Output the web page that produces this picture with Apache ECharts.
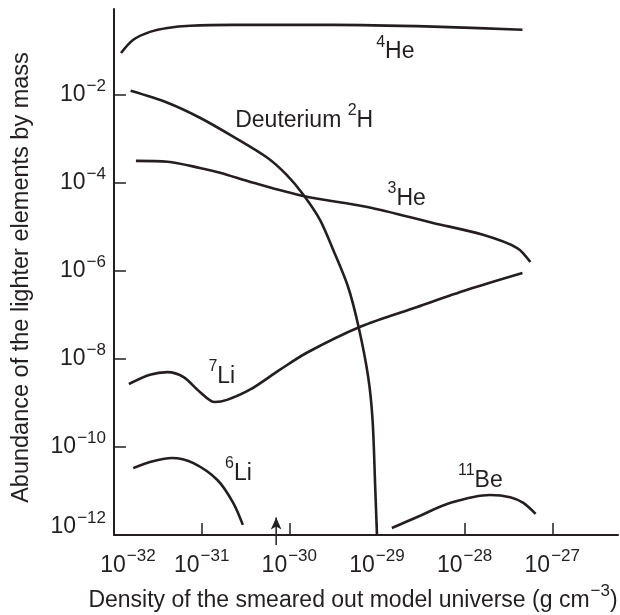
<!DOCTYPE html>
<html><head><meta charset="utf-8">
<script src="https://cdn.jsdelivr.net/npm/echarts@6/dist/echarts.min.js"></script>
<style>html,body{margin:0;padding:0;background:#fff}#c{width:620px;height:615px}</style>
</head><body><div id="c"></div><script>
// All values are log10 exponents: x = log10(density, g cm^-3), y = log10(abundance by mass)
const xTickExps = [-32, -31, -30, -29, -28, -27];
const yTickExps = [-12, -10, -8, -6, -4, -2];

const he4LogX = [-31.92, -31.78, -31.59, -31.39, -31.13, -30.64, -29.50, -28.36, -27.34];
const he4LogY = [-1.05, -0.75, -0.57, -0.48, -0.43, -0.41, -0.41, -0.45, -0.52];

const deutLogX = [-31.81, -31.39, -31.02, -30.64, -30.25, -30.03, -29.84, -29.65, -29.50, -29.33, -29.21, -29.10, -29.05, -29.02, -29.00];
const deutLogY = [-1.91, -2.18, -2.52, -2.95, -3.43, -3.82, -4.27, -4.84, -5.52, -6.36, -7.27, -8.41, -9.39, -10.91, -12.00];

const he3LogX = [-31.75, -31.39, -31.02, -30.79, -30.41, -29.84, -29.11, -28.36, -27.79, -27.40, -27.25];
const he3LogY = [-3.50, -3.52, -3.66, -3.77, -4.00, -4.30, -4.55, -4.91, -5.18, -5.48, -5.80];

const li7LogX = [-31.83, -31.59, -31.39, -31.21, -31.02, -30.85, -30.71, -30.45, -30.11, -29.80, -29.19, -28.54, -27.97, -27.34];
const li7LogY = [-8.57, -8.36, -8.30, -8.41, -8.75, -8.98, -8.93, -8.70, -8.25, -7.86, -7.27, -6.82, -6.43, -6.05];

const li6LogX = [-31.78, -31.59, -31.34, -31.10, -30.82, -30.64, -30.53];
const li6LogY = [-10.48, -10.34, -10.25, -10.36, -10.75, -11.27, -11.77];

const be11LogX = [-28.83, -28.54, -28.16, -27.71, -27.48, -27.33, -27.19];
const be11LogY = [-11.84, -11.59, -11.27, -11.09, -11.14, -11.27, -11.52];

const seriesNames = ['4He', 'Deuterium', '3He', '7Li', '6Li', '11Be'];
const labelText = ['{s|4}{b|He}', '{b|Deuterium }{s|2}{b|H}', '{s|3}{b|He}', '{s|7}{b|Li}', '{s|6}{b|Li}', '{s|11}{b|Be}'];
const labelLogX = [-28.79, -29.83, -28.66, -30.77, -30.58, -27.82];
const labelLogY = [-1.03, -2.59, -4.35, -8.41, -10.60, -10.76];

const arrowLogX = [-30.15, -30.15];
const arrowLogY = [-12.23, -11.6];

const ink = '#231f20';
const FF = '"Liberation Sans", Arial, Helvetica, sans-serif';

const rich = {
  b: { fontSize: 23, fontFamily: FF, color: ink, lineHeight: 23, verticalAlign: 'middle' },
  b0: { fontSize: 23, fontFamily: FF, color: ink, lineHeight: 23, verticalAlign: 'middle', padding: [0, 0, 0, 28] },
  s: { fontSize: 17, fontFamily: FF, color: ink, lineHeight: 17, verticalAlign: 'middle', padding: [0, 0, 18, 1] },
  gap: { fontSize: 2, lineHeight: 16 }
};
const labelRich = {
  b: { fontSize: 23, fontFamily: FF, color: ink, lineHeight: 23, verticalAlign: 'middle' },
  s: { fontSize: 16, fontFamily: FF, color: ink, lineHeight: 16, verticalAlign: 'middle', padding: [0, 0, 20, 0] }
};

function pairs(xs, ys) { return xs.map((x, i) => [x, ys[i]]); }
const curves = [
  pairs(he4LogX, he4LogY), pairs(deutLogX, deutLogY), pairs(he3LogX, he3LogY),
  pairs(li7LogX, li7LogY), pairs(li6LogX, li6LogY), pairs(be11LogX, be11LogY)
];

const series = curves.map((d, i) => ({
  name: seriesNames[i],
  type: 'line',
  data: d,
  smooth: 0.3,
  symbol: 'none',
  lineStyle: { color: ink, width: 2.6 },
  silent: true,
  markPoint: {
    symbol: 'circle', symbolSize: 0, silent: true,
    data: [{ coord: [labelLogX[i], labelLogY[i]] }],
    label: { show: true, position: 'inside', formatter: labelText[i], rich: labelRich, color: ink, textBorderWidth: 0 }
  }
}));

series.push({
  name: 'arrow',
  type: 'line',
  clip: false,
  silent: true,
  data: [
    { value: [arrowLogX[0], arrowLogY[0]], symbol: 'none' },
    { value: [arrowLogX[1], arrowLogY[1]], symbol: 'arrow', symbolSize: [8, 12] }
  ],
  lineStyle: { color: ink, width: 1.5 },
  itemStyle: { color: ink },
  showAllSymbol: true
});

const chart = echarts.init(document.getElementById('c'), null, { renderer: 'canvas' });
chart.setOption({
  animation: false,
  backgroundColor: '#fff',
  grid: { left: 114, right: 2, top: 9, bottom: 80, containLabel: false, outerBoundsMode: 'none' },
  xAxis: {
    type: 'value', min: -32, max: -26.25,
    name: 'Density of the smeared out model universe (g cm{s|−3}{b|)}',
    nameLocation: 'middle', nameGap: 54, nameMoveOverlap: false,
    nameTextStyle: { fontSize: 23, fontFamily: FF, color: ink, rich: rich, padding: [0, 26, 0, 0] },
    axisLine: { show: true, lineStyle: { color: ink, width: 2 } },
    axisTick: { show: true, inside: true, length: 12, lineStyle: { color: ink, width: 1.5 }, customValues: xTickExps },
    axisLabel: {
      margin: 19, customValues: xTickExps, rich: rich,
      formatter: v => (v === xTickExps[0] ? '{b0|10}' : '{b|10}') + '{s|−' + Math.abs(v) + '}'
    },
    splitLine: { show: false }
  },
  yAxis: {
    type: 'value', min: -12, max: -0.05,
    name: 'Abundance of the lighter elements by mass',
    nameLocation: 'middle', nameGap: 80, nameMoveOverlap: false,
    nameTextStyle: { fontSize: 23.5, fontFamily: FF, color: ink, padding: [0, 11, 0, 0] },
    axisLine: { show: true, lineStyle: { color: ink, width: 2 } },
    axisTick: { show: true, inside: true, length: 12, lineStyle: { color: ink, width: 1.5 }, customValues: yTickExps },
    axisLabel: {
      margin: 8, customValues: yTickExps, rich: rich,
      formatter: v => '{b|10}{s|−' + Math.abs(v) + '}' + (v === yTickExps[0] ? '\n{gap| }' : '')
    },
    splitLine: { show: false }
  },
  series: series
});
</script></body></html>
